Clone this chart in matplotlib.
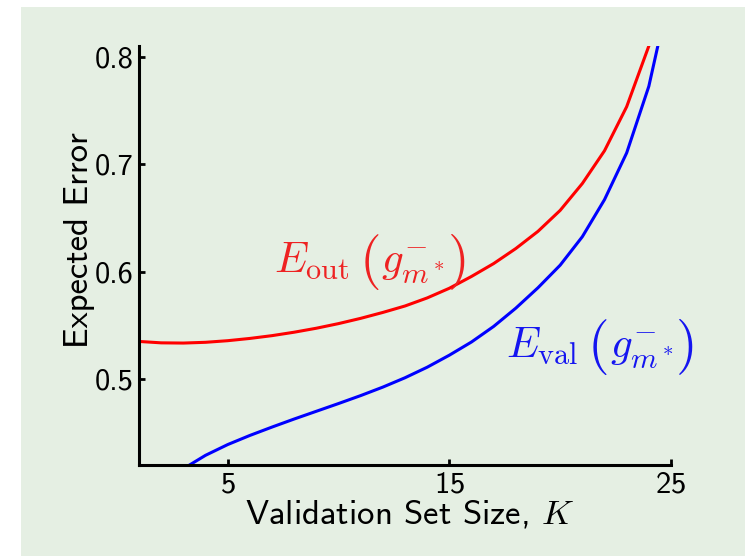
import matplotlib
matplotlib.use("Agg")
import matplotlib.pyplot as plt
from matplotlib.patches import Rectangle
from matplotlib.transforms import offset_copy

plt.rcParams["mathtext.fontset"] = "cm"
plt.rcParams["font.family"] = ["cmss10", "DejaVu Sans"]
plt.rcParams["axes.formatter.use_mathtext"] = True

# Expected out-of-sample and validation error versus validation set size K
k_out = list(range(1, 25))
e_out = [0.5350, 0.5337, 0.5335, 0.5342, 0.5357, 0.5378, 0.5404, 0.5436,
         0.5473, 0.5516, 0.5565, 0.5620, 0.5680, 0.5755, 0.5845, 0.5955,
         0.6075, 0.6215, 0.6375, 0.6570, 0.6820, 0.7125, 0.7535, 0.8100]

k_val = list(range(3, 26))
e_val = [0.4165, 0.4290, 0.4390, 0.4475, 0.4553, 0.4628, 0.4700, 0.4772,
         0.4846, 0.4925, 0.5012, 0.5110, 0.5222, 0.5345, 0.5490, 0.5660,
         0.5850, 0.6060, 0.6325, 0.6670, 0.7105, 0.7725, 0.8650]

x_ticks = [5, 15, 25]
y_ticks = [0.5, 0.6, 0.7, 0.8]
y_tick_labels = ["0.5", "0.6", "0.7", "0.8"]

W, H = 750, 556
fig = plt.figure(figsize=(W / 100, H / 100), dpi=100, facecolor="white")

# light green panel behind the plot
fig.patches.append(Rectangle((21 / W, 0), (745 - 21) / W, (H - 7) / H,
                             transform=fig.transFigure, facecolor="#e5efe3",
                             edgecolor="none", zorder=-5))

ax = fig.add_axes([139 / W, (H - 465) / H, (671 - 139) / W, (465 - 46) / H])
ax.set_facecolor("none")
ax.set_zorder(2)

ax.plot(k_out, e_out, color="#ff0000", lw=2.2)
ax.plot(k_val, e_val, color="#0000ff", lw=2.2)

ax.set_xlim(1, 25)
ax.set_ylim(0.42, 0.81)

for side in ("top", "right"):
    ax.spines[side].set_visible(False)
for side in ("left", "bottom"):
    ax.spines[side].set_linewidth(2.2)

ax.set_xticks(x_ticks)
ax.set_yticks(y_ticks)
ax.set_yticklabels(y_tick_labels)
ax.tick_params(direction="in", length=4, width=2, labelsize=22, pad=4)
ax.tick_params(axis="x", pad=5)

ax.set_xlabel(r"Validation Set Size, $K$", fontsize=25)
ax.xaxis.label.set_va("baseline")
ax.xaxis.set_label_coords((410 - 139) / 532, (465 - 523) / 419)

ax.set_ylabel("Expected Error", fontsize=25)
ax.yaxis.label.set_va("baseline")
ax.yaxis.set_label_coords((88 - 139) / 532, (465 - 240) / 419)

renderer = fig.canvas.get_renderer()


def curve_label(x, y, head, body, color, fs=31, paren_fs=40,
                gaps=(9, 2, 2), paren_drop=3):
    """Write head (body) with enlarged parentheses, starting at data (x, y)."""
    x0, _ = ax.transData.transform((x, y))
    t = ax.text(x, y, head, color=color, fontsize=fs,
                ha="left", va="baseline")
    cursor = t.get_window_extent(renderer).x1
    pieces = [(r"$($", paren_fs, -paren_drop, gaps[0]),
              (body, fs, 0, gaps[1]),
              (r"$)$", paren_fs, -paren_drop, gaps[2])]
    for s, size, dy, gap in pieces:
        cursor += gap
        tr = offset_copy(ax.transData, fig=fig, x=cursor - x0, y=dy,
                         units="dots")
        t = ax.text(x, y, s, color=color, fontsize=size, transform=tr,
                    ha="left", va="baseline")
        cursor = t.get_window_extent(renderer).x1


curve_label(7.1, 0.5988, r"$E_{\rm out}$", r"$g^{-}_{m^*}$", "#ee2222")
curve_label(17.55, 0.5197, r"$E_{\rm val}$", r"$g^{-}_{m^*}$", "#1515f0")

fig.savefig("out.png", dpi=100, facecolor="white")
